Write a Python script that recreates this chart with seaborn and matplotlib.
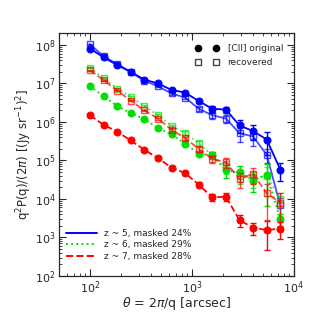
import numpy as np
import pandas as pd
import seaborn as sns
import matplotlib.pyplot as plt
from matplotlib.lines import Line2D
from matplotlib.ticker import NullFormatter, FixedLocator, LogFormatterSciNotation

## DATA

# angular scale theta = 2pi/q [arcsec]
theta = [100, 136, 185, 251, 341, 464, 631, 858, 1166, 1585, 2154, 2929, 3981, 5412, 7356]

# z ~ 5
z5_orig = [8.1e7, 4.8e7, 3.0e7, 2.0e7, 1.26e7, 1.0e7, 6.8e6, 5.8e6, 3.5e6, 2.2e6, 2.1e6, 8.1e5, 5.8e5, 3.5e5, 5.8e4]
z5_rec = [1.05e8, 5.1e7, 3.2e7, 2.0e7, 1.17e7, 8.5e6, 5.5e6, 4.3e6, 2.2e6, 1.5e6, 1.23e6, 5.1e5, 4.2e5, 1.4e5, 6.8e3]
z5_orig_err = [0.03, 0.03, 0.03, 0.03, 0.04, 0.05, 0.06, 0.08, 0.12, 0.2, 0.2, 0.35, 0.4, 0.6, 0.5]
z5_rec_err = [0.03, 0.03, 0.03, 0.03, 0.04, 0.05, 0.06, 0.08, 0.12, 0.2, 0.25, 0.4, 0.45, 0.4, 0.6]

# z ~ 6
z6_orig = [8.5e6, 4.7e6, 2.6e6, 1.7e6, 1.2e6, 6.9e5, 4.8e5, 2.7e5, 1.5e5, 1.35e5, 5.5e4, 4.9e4, 3.0e4, 4.3e4, 3.0e3]
z6_rec = [2.55e7, 1.35e7, 7.4e6, 4.5e6, 2.6e6, 1.5e6, 7.8e5, 5.2e5, 2.8e5, 1.35e5, 7.0e4, 4.0e4, 3.5e4, 4.0e4, 1.0e4]
z6_orig_err = [0.03, 0.03, 0.03, 0.04, 0.05, 0.06, 0.08, 0.1, 0.15, 0.2, 0.35, 0.45, 0.5, 0.85, 0.35]
z6_rec_err = [0.03, 0.03, 0.03, 0.04, 0.05, 0.06, 0.08, 0.1, 0.15, 0.2, 0.35, 0.4, 0.45, 0.7, 0.4]

# z ~ 7
z7_orig = [1.48e6, 8.5e5, 5.6e5, 3.3e5, 1.9e5, 1.15e5, 6.5e4, 4.7e4, 2.35e4, 1.1e4, 1.15e4, 2.8e3, 1.8e3, 1.55e3, 1.7e3]
z7_rec = [2.2e7, 1.23e7, 6.5e6, 3.6e6, 2.0e6, 1.23e6, 6.3e5, 3.8e5, 2.0e5, 1.1e5, 8.9e4, 3.3e4, 4.5e4, 1.4e4, 8.0e3]
z7_orig_err = [0.03, 0.03, 0.03, 0.04, 0.05, 0.06, 0.08, 0.1, 0.15, 0.2, 0.25, 0.35, 0.35, 0.7, 0.45]
z7_rec_err = [0.03, 0.03, 0.03, 0.04, 0.05, 0.06, 0.08, 0.1, 0.15, 0.2, 0.3, 0.4, 0.45, 0.8, 0.8]

series = [
    ('z ~ 5, masked 24%', 'blue', '-', z5_orig, z5_orig_err, z5_rec, z5_rec_err),
    ('z ~ 6, masked 29%', '#00e000', ':', z6_orig, z6_orig_err, z6_rec, z6_rec_err),
    ('z ~ 7, masked 28%', 'red', '--', z7_orig, z7_orig_err, z7_rec, z7_rec_err),
]

x_major = [1e2, 1e3, 1e4]
y_major = [1e2, 1e3, 1e4, 1e5, 1e6, 1e7, 1e8]

## PLOT

sns.set_theme(style='ticks')
plt.rcParams['font.family'] = ['DejaVu Sans']
plt.rcParams['mathtext.fontset'] = 'dejavusans'

fig = plt.figure(figsize=(3.15, 3.15), dpi=100)
ax = fig.add_axes([0.188, 0.124, 0.745, 0.770])

for label, col, ls, orig, orig_err, rec, rec_err in series:
    df = pd.DataFrame({'theta': theta, 'orig': orig, 'rec': rec})

    # recovered: open squares, a bit transparent
    sns.lineplot(ax=ax, data=df, x='theta', y='rec', color=col, linestyle=ls,
                 lw=1.3, marker='s', markersize=5, markerfacecolor='none',
                 markeredgecolor=col, markeredgewidth=1.0, alpha=0.7)
    ax.errorbar(theta, rec, yerr=np.array(rec_err) * np.array(rec), fmt='none',
                ecolor=col, elinewidth=1.0, capsize=2, alpha=0.7)

    # original: filled circles
    sns.lineplot(ax=ax, data=df, x='theta', y='orig', color=col, linestyle=ls,
                 lw=1.3, marker='o', markersize=5, markeredgecolor=col)
    ax.errorbar(theta, orig, yerr=np.array(orig_err) * np.array(orig), fmt='none',
                ecolor=col, elinewidth=1.0, capsize=2)

ax.set_xscale('log')
ax.set_yscale('log')
ax.set_xlim(50, 1e4)
ax.set_ylim(1e2, 2e8)
ax.xaxis.set_major_locator(FixedLocator(x_major))
ax.yaxis.set_major_locator(FixedLocator(y_major))
ax.xaxis.set_major_formatter(LogFormatterSciNotation())
ax.yaxis.set_major_formatter(LogFormatterSciNotation())
ax.xaxis.set_minor_formatter(NullFormatter())
ax.yaxis.set_minor_formatter(NullFormatter())

ax.set_xlabel(r'$\theta$ = 2$\pi$/q [arcsec]', fontsize=9, labelpad=-0.5)
ax.set_ylabel(r'q$^2$P(q)/(2$\pi$) [(Jy sr$^{-1}$)$^2$]', fontsize=8.5, labelpad=1)

ax.tick_params(which='both', direction='in', top=True, right=True, labelsize=8, pad=2.5)
ax.tick_params(which='major', length=5, width=0.8)
ax.tick_params(which='minor', length=2.5, width=0.6)
for sp in ax.spines.values():
    sp.set_linewidth(0.9)

# legend for z bins (lines only)
line_handles = [Line2D([], [], color=col, linestyle=ls, lw=1.4)
                for _, col, ls, *_ in series]
leg1 = ax.legend(line_handles, [s[0] for s in series], loc='lower left',
                 bbox_to_anchor=(0.0, 0.035), frameon=False, fontsize=6.5,
                 handlelength=3.5, labelspacing=0.3, borderaxespad=0.3)
ax.add_artist(leg1)

# legend for marker types
mk_handles = [Line2D([], [], color='black', marker='o', linestyle='none', markersize=4.5),
              Line2D([], [], color='#444444', marker='s', linestyle='none', markersize=4.5,
                     markerfacecolor='none')]
ax.legend(mk_handles, ['[CII] original', 'recovered'], loc='upper right',
          numpoints=2, frameon=False, fontsize=6.5, handletextpad=1.0,
          handlelength=2.6, labelspacing=0.5, borderaxespad=0.8)

fig.savefig('out.png', dpi=100)
